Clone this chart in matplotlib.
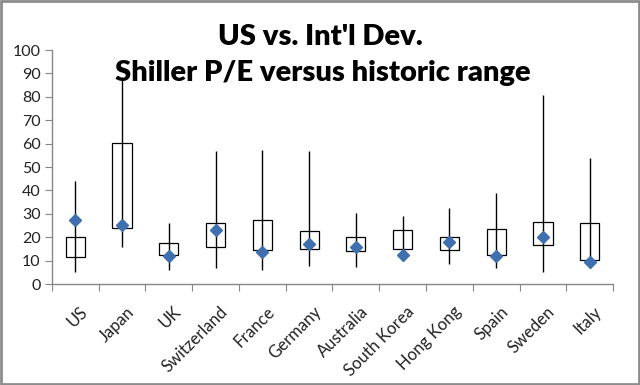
import matplotlib
matplotlib.use("Agg")
import matplotlib.pyplot as plt
from matplotlib.patches import Rectangle
import numpy as np

countries = ["US", "Japan", "UK", "Switzerland", "France", "Germany", "Australia",
             "South Korea", "Hong Kong", "Spain", "Sweden", "Italy"]
hist_min = [5.3, 15.7, 6.0, 7.1, 6.0, 7.8, 7.4, 12.5, 8.5, 7.0, 5.3, 6.7]
hist_max = [44.0, 88.5, 26.2, 56.8, 57.3, 56.8, 30.6, 29.0, 32.5, 39.0, 81.0, 53.7]
box_low = [11.7, 23.8, 12.4, 15.7, 14.5, 14.8, 14.2, 14.8, 14.5, 12.4, 16.8, 10.3]
box_high = [20.0, 60.4, 17.7, 26.0, 27.4, 22.8, 20.0, 23.0, 20.0, 23.4, 26.6, 26.2]
current = [27.4, 25.2, 12.0, 23.0, 13.8, 17.0, 16.0, 12.4, 18.0, 12.0, 20.0, 9.6]
yticks = [0, 10, 20, 30, 40, 50, 60, 70, 80, 90, 100]

plt.rcParams['font.family'] = ['Lato', 'DejaVu Sans']

fig = plt.figure(figsize=(6.4, 3.85), dpi=100)
ax = fig.add_axes([0.081, 0.262, 0.877, 0.608])

x = np.arange(len(countries))
bw = 0.41
heights = [h - l for h, l in zip(box_high, box_low)]
ax.bar(x, heights, bottom=box_low, width=bw, facecolor='white', edgecolor='black',
       linewidth=0.9, zorder=2)
ax.vlines(x, hist_min, hist_max, colors='black', linewidth=1.0, zorder=3)
ax.plot(x, current, linestyle='none', marker='D', markersize=6.5,
        color='#3f6fae', markeredgecolor='#3f6fae', zorder=4)

ax.set_xlim(-0.5, len(countries) - 0.5)
ax.set_ylim(0, 100)
ax.set_yticks(yticks)
ax.set_yticklabels([str(t) for t in yticks], fontsize=11.5, color='#222222')

ax.set_xticks(np.arange(-0.5, len(countries), 1.0))
ax.set_xticklabels([])
ax.set_xticks(x + 0.08, minor=True)
ax.set_xticklabels(countries, minor=True, rotation=45, ha='right', va='top',
                   rotation_mode='anchor', fontsize=12, color='#222222')
ax.tick_params(axis='x', which='minor', length=0, pad=14)
ax.tick_params(axis='x', which='major', length=5, color='#868686', direction='out')
ax.tick_params(axis='y', length=5, color='#868686', direction='out', pad=3)

for s in ['top', 'right']:
    ax.spines[s].set_visible(False)
for s in ['left', 'bottom']:
    ax.spines[s].set_color('#868686')
    ax.spines[s].set_linewidth(1.0)

fig.text(0.5, 0.905, "US vs. Int'l Dev.", ha='center', va='center',
         fontsize=21, fontweight='heavy')
fig.text(0.505, 0.81, "Shiller P/E versus historic range", ha='center', va='center',
         fontsize=21, fontweight='heavy')

fig.patches.append(Rectangle((0.002, 0.003), 0.996, 0.994, transform=fig.transFigure,
                             fill=False, edgecolor='#8c8c8c', linewidth=2.0))

fig.savefig("out.png", dpi=100)
